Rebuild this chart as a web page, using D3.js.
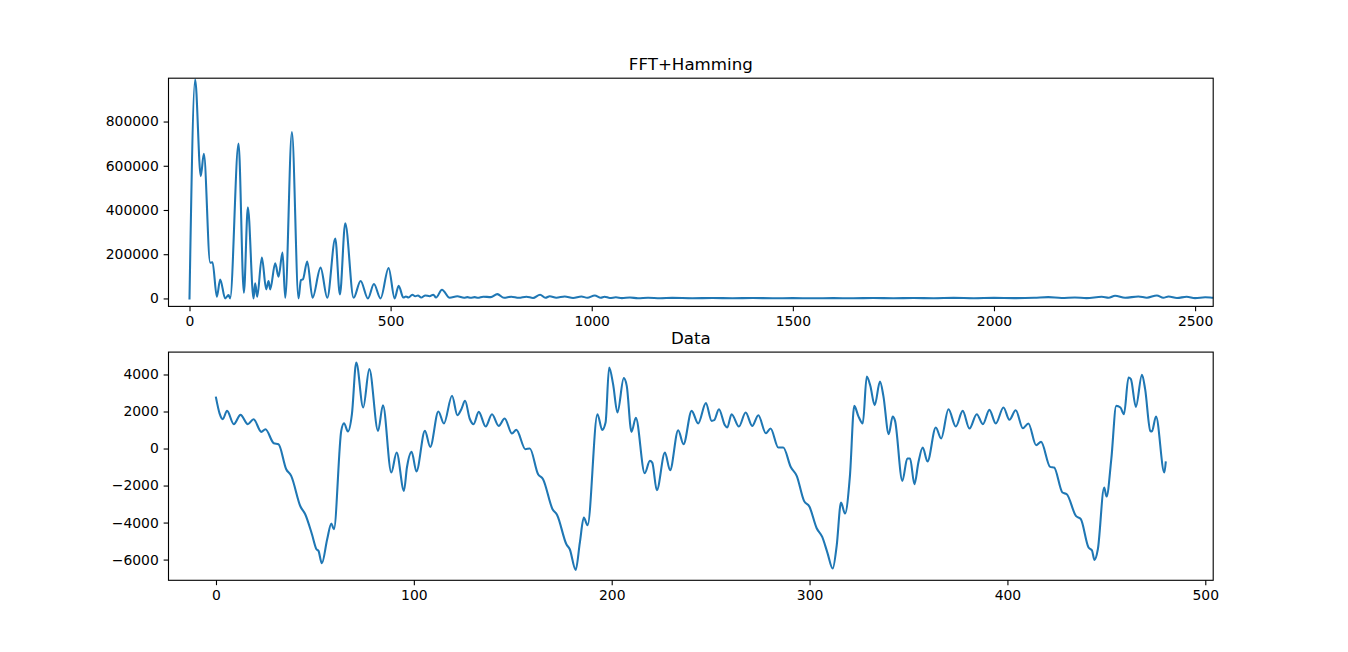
<!DOCTYPE html>
<html>
<head>
<meta charset="utf-8">
<script src="https://cdn.jsdelivr.net/npm/d3@7"></script>
<style>
  body { margin: 0; background: #fff; }
  svg { display: block; font-family: "DejaVu Sans", sans-serif; }
</style>
</head>
<body>
<svg width="1348" height="652"></svg>
<script>
// spectrum (top panel)
const fftFreq = [0, 14, 28, 35.7, 51.4, 57.2, 68, 76.3, 88.7, 97, 101, 121.9, 135.2, 145.1, 159.2, 163.3, 168.3,
  179.9, 190.7, 196.5, 200.6, 213.1, 221.4, 231.3, 238, 254.6, 271.1, 276.9, 281.8, 292.7, 306, 325.9, 342.5,
  362.4, 373.9, 387.2, 408, 425.4, 443.6, 458.5, 475, 495, 510, 520, 531.6, 538, 544.7, 553.9, 561.3, 568, 576,
  586.2, 597, 606.2, 612.9, 627.7, 646.8, 665.9, 682.5, 690.8, 699, 709, 717, 730, 749, 765.3, 781.9, 800, 818.6,
  837.6, 854, 871.6, 884.8, 895.6, 912, 932.8, 953.6, 974.3, 989, 1007.5, 1022.4, 1032, 1045, 1060, 1075, 1095,
  1115, 1140, 1170, 1200, 1250, 1300, 1350, 1400, 1450, 1500, 1550, 1600, 1650, 1700, 1750, 1800, 1850, 1900,
  1950, 2000, 2050, 2100, 2135, 2168, 2201, 2230, 2268, 2285, 2301, 2326, 2359, 2380, 2405, 2421, 2434, 2455,
  2479, 2500, 2525, 2545, 2560];
const fftMag = [0, 990000, 553000, 654500, 162000, 164000, 7700, 86000, 0, 15000, 0, 700000, 26000, 412000, 0, 68000, 8000,
  185000, 41000, 79000, 41000, 159000, 98500, 208000, 3000, 753000, 0, 83000, 86000, 167000, 3000, 139500, 3000,
  271000, 18000, 339500, 3000, 79000, 0, 65000, 0, 138000, 0, 57700, 4000, 9000, 4000, 17000, 10000, 13000, 4000,
  13600, 10000, 17000, 4000, 39500, 3000, 10000, 3000, 6000, 3000, 6000, 3000, 8000, 6000, 19500, 3000, 8000, 3000,
  8000, 2000, 17000, 3000, 10000, 3000, 9000, 2000, 9000, 3000, 13600, 3000, 8000, 2000, 5000, 1500, 4000,
  1000, 3000, 1000, 2500, 1000, 2000, 800, 1800, 800, 1500, 700, 1500, 800, 2000, 1000, 2000, 1000, 2500,
  1000, 2500, 1500, 3000, 6000, 2000, 4500, 1500, 7500, 3000, 12300, 3000, 9000, 3000, 13600, 3000, 9000, 2000,
  7500, 1500, 5000, 3000, 2000];

// raw signal (bottom panel)
const sampleIdx = [0, 1.8, 3.4, 5.6, 9, 12.4, 16.1, 19, 22.9, 25, 29.2, 31.6, 35.5, 38, 42.7, 45.1, 48.5, 50.8, 51.8,
  53.5, 56.2, 58.3, 59.6, 63.3, 64.7, 66.7, 68.7, 70.9, 74.4, 77.5, 81.9, 84.4, 88.6, 91.3, 95, 96.5, 98.9, 101.3,
  105.6, 108.3, 112.4, 115.2, 119.3, 122, 124, 125.9, 128.2, 130.2, 132.8, 136.3, 139.5, 142.9, 145.9, 149.6,
  151.8, 156.4, 158.6, 162.8, 165.3, 170.1, 172.4, 177.1, 178.8, 181.8, 183.9, 185.9, 187.8, 192.8, 195.2, 196.9,
  198.7, 200.7, 202.9, 206.1, 207.6, 210, 212.2, 216.7, 219.3, 220.5, 222.8, 226.9, 229.5, 233.6, 236.3, 240.4,
  243.7, 247.6, 250.5, 251.8, 254.2, 257.2, 258.4, 260.6, 264.3, 267.7, 271, 274.1, 277.9, 280.3, 284.2, 286.7,
  290.5, 293.5, 297.2, 299.9, 303.6, 306.4, 309, 311.7, 313.7, 315.9, 317.9, 320.4, 322.6, 324.6, 326.9, 328.9,
  330.7, 332.9, 335.6, 337.3, 340, 342, 343.2, 346.9, 349.4, 350.8, 353, 355, 357.2, 359.6, 363.8, 366.5, 370.2,
  373.9, 377.4, 380.8, 384.5, 387.6, 390.9, 394.1, 398, 401, 404.2, 407.8, 410.6, 414.5, 417, 421.6, 423.6, 427.8,
  430, 434.6, 437.1, 441, 442.7, 444, 445.7, 448.9, 450.1, 452.5, 455, 457.1, 458.9, 461.2, 462.4, 464.9, 468,
  469.6, 472.2, 473, 475.1, 479.3, 480];
const sampleVal = [2750, 1900, 1586, 2036, 1315, 1820, 1315, 1586, 901, 1045, 288, 234, -1117, -1477, -3135, -3550, -4631, -5441, -5531,
  -6198, -4901, -4054, -4360, 955, 1370, 919, 1856, 4649, 2216, 4288, 955, 2342, -1297, -216, -2288, -1027, -180, -1243,
  955, 90, 2000, 1351, 2847, 1802, 2126, 2577, 1622, 1315, 1982, 1189, 1856, 1225, 1622, 811,
  1009, -36, 0, -1387, -1658, -3279, -3586, -5171, -5441, -6559, -5081, -3730, -4144, 1856, 1009, 1405,
  4378, 3477, 1946, 3802, 3387, 901, 1658, -1333, -667, -757, -2252, -216, -1171, 991, 234, 2036,
  1351, 2451, 1495, 1532, 2126, 1261, 1135, 1856, 1189, 1946, 1225, 1802, 829, 1081, 54, 54,
  -1000, -1477, -2829, -3135, -4306, -4775, -5622, -6486, -5261, -2919, -3514, -1477, 2306, 1766, 1351, 3892,
  3387, 2342, 3622, 2847, 775, 1730, 1495, -1748, -541, -541, -1928, -757, 54, -703, 1135, 541, 2126,
  1189, 2036, 1081, 1856, 1315, 2090, 1351, 2216, 1550, 2072, 1099, 1351, 180, 360, -991, -1027, -2378,
  -2468, -3640, -3820, -5351, -5496, -6018, -5441, -2108, -2595, -577, 2306, 2216, 1856, 3838, 3748, 2252, 3982,
  3207, 955, 919, 1730, -1297, -750];

const fftXTicks = [0, 500, 1000, 1500, 2000, 2500];
const fftYTicks = [0, 200000, 400000, 600000, 800000];
const dataXTicks = [0, 100, 200, 300, 400, 500];
const dataYTicks = [-6000, -4000, -2000, 0, 2000, 4000];

const svg = d3.select("svg");
svg.append("rect").attr("width", 1348).attr("height", 652).attr("fill", "#fff");

const left = 168.5, right = 1213.2, axH = 228.2;
const tick = 4.86, fs = 13.9;
const blue = "#1f77b4";

const panel = (top, id, title, xs, ys, xDomain, yDomain, xTicks, yTicks) => {
    const x = d3.scaleLinear().domain(xDomain).range([left, right]);
    const y = d3.scaleLinear().domain(yDomain).range([top + axH, top]);
    const g = svg.append("g");

    g.append("clipPath").attr("id", id)
        .append("rect").attr("x", left).attr("y", top).attr("width", right - left).attr("height", axH);

    const line = d3.line()
        .x(i => x(xs[i]))
        .y(i => y(ys[i]))
        .curve(d3.curveMonotoneX);

    g.append("path")
        .attr("d", line(d3.range(xs.length)))
        .attr("clip-path", `url(#${id})`)
        .attr("fill", "none")
        .attr("stroke", blue)
        .attr("stroke-width", 2.08)
        .attr("stroke-linejoin", "round")
        .attr("stroke-linecap", "square");

    const xAxis = g.append("g")
        .attr("transform", `translate(0,${top + axH})`)
        .call(d3.axisBottom(x).tickValues(xTicks).tickFormat(d3.format("d"))
            .tickSize(tick).tickPadding(tick).tickSizeOuter(0));
    const yAxis = g.append("g")
        .attr("transform", `translate(${left},0)`)
        .call(d3.axisLeft(y).tickValues(yTicks).tickFormat(d3.format("d"))
            .tickSize(tick).tickPadding(tick).tickSizeOuter(0));

    [xAxis, yAxis].forEach(a => {
        a.select(".domain").remove();
        a.selectAll("line").attr("stroke", "#000").attr("stroke-width", 1.11);
        a.selectAll("text").attr("fill", "#000")
            .style("font-family", "'DejaVu Sans'").style("font-size", fs + "px");
    });

    g.append("rect")
        .attr("x", left).attr("y", top)
        .attr("width", right - left).attr("height", axH)
        .attr("fill", "none").attr("stroke", "#000").attr("stroke-width", 1.11);

    g.append("text")
        .attr("x", (left + right) / 2).attr("y", top - 8.3)
        .attr("text-anchor", "middle")
        .style("font-size", "16.67px")
        .text(title);
};

panel(78.2, "clipFft", "FFT+Hamming", fftFreq, fftMag, [-52.2, 2545], [-36000, 996000], fftXTicks, fftYTicks);

// bottom panel uses matplotlib-style 5% margins around the data
const [vMin, vMax] = d3.extent(sampleVal);
const [iMin, iMax] = d3.extent(sampleIdx);
const vPad = (vMax - vMin) * 0.05, iPad = (iMax - iMin) * 0.05;
panel(352.1, "clipData", "Data", sampleIdx, sampleVal,
    [iMin - iPad, iMax + iPad], [vMin - vPad, vMax + vPad], dataXTicks, dataYTicks);
</script>
</body>
</html>
